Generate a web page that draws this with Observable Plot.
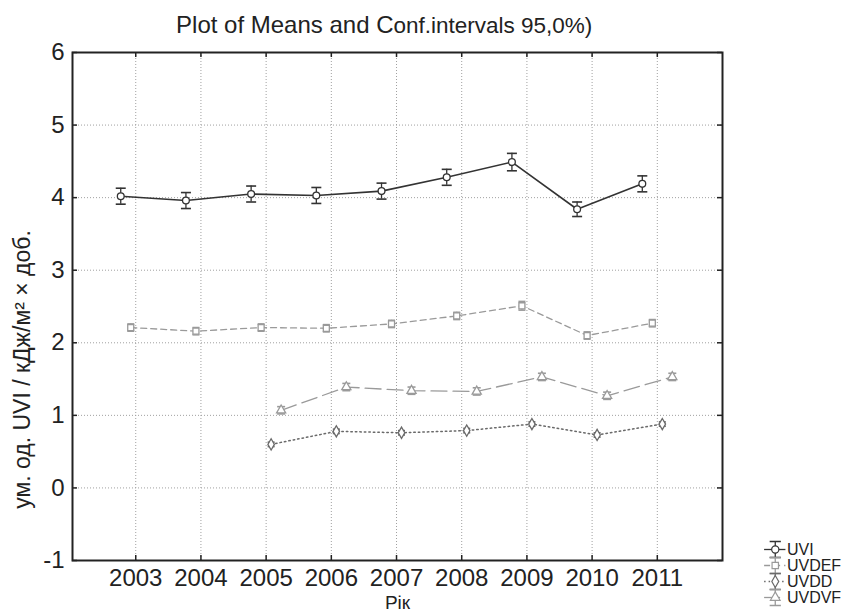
<!DOCTYPE html>
<html>
<head>
<meta charset="utf-8">
<script src="https://cdn.jsdelivr.net/npm/d3@7"></script>
<script src="https://cdn.jsdelivr.net/npm/@observablehq/plot@0.6"></script>
<style>
  html, body { margin: 0; padding: 0; background: #ffffff; }
  #wrap { position: relative; width: 842px; height: 612px; overflow: hidden; }
  #legend { position: absolute; left: 760px; top: 526px; }
</style>
</head>
<body>
<div id="wrap"><div id="chart"></div><div id="legend"></div></div>
<script>
// ---- data ----
const years = [2003, 2004, 2005, 2006, 2007, 2008, 2009, 2010, 2011];
const yTicks = [-1, 0, 1, 2, 3, 4, 5, 6];
const seriesNames = ["UVI", "UVDEF", "UVDD", "UVDVF"];
const uvi   = [4.02, 3.96, 4.05, 4.03, 4.09, 4.28, 4.49, 3.84, 4.19];
const uvdef = [2.21, 2.16, 2.21, 2.20, 2.26, 2.37, 2.51, 2.10, 2.27];
const uvdd  = [null, null, 0.60, 0.78, 0.76, 0.79, 0.88, 0.73, 0.88];
const uvdvf = [null, null, 1.07, 1.39, 1.34, 1.33, 1.53, 1.27, 1.53];
const ciUvi   = [0.11, 0.11, 0.11, 0.11, 0.11, 0.11, 0.12, 0.10, 0.11];
const ciUvdef = [0.05, 0.05, 0.05, 0.05, 0.05, 0.05, 0.06, 0.05, 0.05];
const ciUvdd  = [null, null, 0.03, 0.03, 0.03, 0.03, 0.03, 0.03, 0.03];
const ciUvdvf = [null, null, 0.05, 0.05, 0.05, 0.05, 0.05, 0.05, 0.05];
const titleHead = "Plot of Means and C";
const titleTail = "onf.intervals 95,0%)";
const yLabel = "ум. од. UVI / кДж/м² × доб.";
const xLabel = "Рік";

// ---- styling per series ----
const styles = {
  UVI:   {stroke: "#333333", dash: null,    width: 1.6, symbol: "circle",   dx: -15, cap: 5},
  UVDEF: {stroke: "#9a9a9a", dash: "6,4",   width: 1.3, symbol: "square",   dx: -5,  cap: 3.5},
  UVDD:  {stroke: "#6a6a6a", dash: "1.5,3", width: 1.5, symbol: "diamond",  dx: 5,   cap: 3.5},
  UVDVF: {stroke: "#9a9a9a", dash: "16,6",  width: 1.3, symbol: "triangle", dx: 15,  cap: 4}
};

const valueSets = {UVI: uvi, UVDEF: uvdef, UVDD: uvdd, UVDVF: uvdvf};
const ciSets = {UVI: ciUvi, UVDEF: ciUvdef, UVDD: ciUvdd, UVDVF: ciUvdvf};

const capSymbol = {
  draw(ctx, size) {
    const r = Math.sqrt(size / Math.PI);
    ctx.moveTo(-r, 0); ctx.lineTo(r, 0);
  }
};
// I-beam glyph for the legend (stem plus two caps)
const ibeamSymbol = {
  draw(ctx, size) {
    const r = Math.sqrt(size / Math.PI);
    const w = r * 0.7;
    ctx.moveTo(0, -r); ctx.lineTo(0, r);
    ctx.moveTo(-w, -r); ctx.lineTo(w, -r);
    ctx.moveTo(-w, r); ctx.lineTo(w, r);
  }
};

const FONT = "'Liberation Sans', Arial, Helvetica, sans-serif";
const marks = [];
// grid
marks.push(Plot.ruleX(years, {x: d => d, stroke: "#a0a0a0", strokeDasharray: "1,2", strokeWidth: 1}));
marks.push(Plot.ruleY(yTicks, {y: d => d, stroke: "#a0a0a0", strokeDasharray: "1,2", strokeWidth: 1}));
// inward ticks
marks.push(Plot.tickX(years, {x: d => d, insetTop: 503, stroke: "#222", strokeWidth: 1.5}));
marks.push(Plot.tickX(years, {x: d => d, insetBottom: 503, stroke: "#222", strokeWidth: 1.5}));
marks.push(Plot.tickY(yTicks, {y: d => d, insetRight: 645, stroke: "#222", strokeWidth: 1.5}));
marks.push(Plot.tickY(yTicks, {y: d => d, insetLeft: 645, stroke: "#222", strokeWidth: 1.5}));

for (const name of seriesNames) {
  const st = styles[name];
  const rows = years.map((yr, i) => ({year: yr, value: valueSets[name][i], ci: ciSets[name][i]}))
                    .filter(d => d.value != null);
  marks.push(Plot.line(rows, {x: "year", y: "value", dx: st.dx, stroke: st.stroke,
    strokeWidth: st.width, strokeDasharray: st.dash}));
  marks.push(Plot.ruleX(rows, {x: "year", y1: d => d.value - d.ci, y2: d => d.value + d.ci,
    dx: st.dx, stroke: st.stroke, strokeWidth: 1.3}));
  marks.push(Plot.dot(rows, {x: "year", y: d => d.value + d.ci, dx: st.dx, symbol: capSymbol,
    r: st.cap, stroke: st.stroke, strokeWidth: 1.6, fill: "none"}));
  marks.push(Plot.dot(rows, {x: "year", y: d => d.value - d.ci, dx: st.dx, symbol: capSymbol,
    r: st.cap, stroke: st.stroke, strokeWidth: 1.6, fill: "none"}));
  marks.push(Plot.dot(rows, {x: "year", y: "value", dx: st.dx, symbol: st.symbol, r: 3.4,
    stroke: st.stroke, strokeWidth: 1.3, fill: "white"}));
}

marks.push(Plot.frame({stroke: "#222", strokeWidth: 2}));
// title (two parts, as in the reference) and axis labels
marks.push(Plot.text([titleHead], {text: d => d, frameAnchor: "top-left", dx: 321, dy: -27,
  textAnchor: "end", lineAnchor: "middle", fontSize: 24, fill: "#222"}));
marks.push(Plot.text([titleTail], {text: d => d, frameAnchor: "top-left", dx: 321, dy: -26.5,
  textAnchor: "start", lineAnchor: "middle", fontSize: 22.5, fill: "#222"}));
marks.push(Plot.text([yLabel], {text: d => d, frameAnchor: "left", rotate: -90, dx: -50, dy: 63,
  textAnchor: "middle", fontSize: 23, fill: "#222"}));
marks.push(Plot.text([xLabel], {text: d => d, frameAnchor: "bottom", dy: 35, lineAnchor: "top",
  textAnchor: "middle", fontSize: 19, fill: "#222"}));

const chart = Plot.plot({
  width: 842,
  height: 612,
  marginLeft: 72,
  marginRight: 120,
  marginTop: 52,
  marginBottom: 52,
  style: {fontSize: "24px", fontFamily: FONT, background: "white", color: "#222", overflow: "visible"},
  x: {type: "linear", domain: [2002.03, 2012], ticks: years, tickFormat: d => String(d),
    tickSize: 0, tickPadding: 8, label: null},
  y: {domain: [-1, 6], ticks: yTicks, tickFormat: d => String(d), tickSize: 0, tickPadding: 8, label: null},
  marks
});
document.getElementById("chart").appendChild(chart);

// ---- legend ----
const legendMarks = [];
for (const name of seriesNames) {
  const st = styles[name];
  legendMarks.push(Plot.ruleY([name], {y: d => d, x1: 0.05, x2: 0.31, stroke: st.stroke,
    strokeWidth: 1.3, strokeDasharray: st.dash}));
  legendMarks.push(Plot.dot([name], {x: 0.18, y: d => d, symbol: ibeamSymbol, r: 8,
    stroke: st.stroke, strokeWidth: 1.3, fill: "none"}));
  legendMarks.push(Plot.dot([name], {x: 0.18, y: d => d, symbol: st.symbol, r: 3.6,
    stroke: st.stroke, strokeWidth: 1.2, fill: "white"}));
  legendMarks.push(Plot.text([name], {x: 0.31, y: d => d, text: d => d, textAnchor: "start",
    dx: 1, fontSize: 16, fill: "#222"}));
}
const legend = Plot.plot({
  width: 82,
  height: 86,
  margin: 0,
  style: {fontFamily: FONT, background: "transparent", overflow: "visible"},
  x: {domain: [0, 1], axis: null},
  y: {type: "point", domain: seriesNames, range: [15, 79], axis: null},
  marks: legendMarks
});
document.getElementById("legend").appendChild(legend);
</script>
</body>
</html>
